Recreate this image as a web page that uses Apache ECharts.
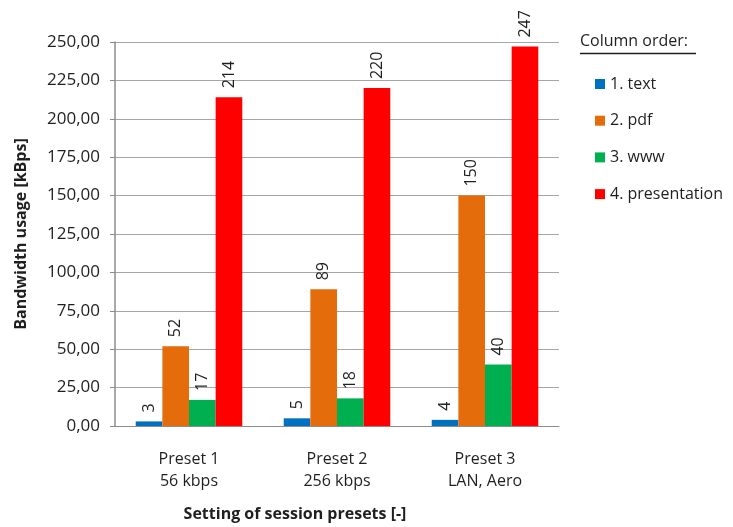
<!DOCTYPE html>
<html>
<head>
<meta charset="utf-8">
<script src="https://cdn.jsdelivr.net/npm/echarts@6/dist/echarts.min.js"></script>
<style>
  html, body { margin: 0; padding: 0; background: #fff; }
  #chart { width: 733px; height: 527px; }
</style>
</head>
<body>
<div id="chart"></div>
<script>
// Session presets on the x axis
const categories = ['Preset 1\n56 kbps', 'Preset 2\n256 kbps', 'Preset 3\nLAN, Aero'];

// Bandwidth usage per content type [kBps]
const seriesNames = ['1. text', '2. pdf', '3. www', '4. presentation'];
const textValues = [3, 5, 4];
const pdfValues = [52, 89, 150];
const wwwValues = [17, 18, 40];
const presentationValues = [214, 220, 247];

const colors = ['#0070C0', '#E46C0A', '#00B050', '#FF0000'];
const font = '"Open Sans", Lato, sans-serif';
const textColor = '#1f1f1f';

const valueSets = [textValues, pdfValues, wwwValues, presentationValues];

const series = valueSets.map((vals, i) => ({
  name: seriesNames[i],
  type: 'bar',
  data: vals,
  barGap: 0,
  barCategoryGap: '28%',
  itemStyle: { color: colors[i] },
  label: {
    show: true,
    position: 'top',
    rotate: 90,
    align: 'left',
    verticalAlign: 'middle',
    distance: 9,
    color: textColor,
    fontFamily: font,
    fontSize: 16,
    formatter: p => String(p.value)
  }
}));

const chart = echarts.init(document.getElementById('chart'));
chart.setOption({
  animation: false,
  backgroundColor: '#fff',
  grid: { left: 115, right: 174, top: 42, bottom: 100, containLabel: false },
  legend: {
    orient: 'vertical',
    left: 590,
    top: 71,
    itemGap: 20.7,
    itemWidth: 10,
    itemHeight: 10,
    icon: 'rect',
    data: seriesNames,
    textStyle: { color: textColor, fontFamily: font, fontSize: 16, lineHeight: 16 }
  },
  graphic: [
    {
      type: 'text',
      left: 580,
      top: 33,
      style: { text: 'Column order:', fill: textColor, font: '16px ' + font }
    },
    {
      type: 'line',
      shape: { x1: 580, y1: 53.5, x2: 696, y2: 53.5 },
      style: { stroke: textColor, lineWidth: 1.5 }
    }
  ],
  xAxis: {
    type: 'category',
    data: categories,
    name: 'Setting of session presets [-]',
    nameLocation: 'middle',
    nameGap: 80,
    nameTextStyle: {
      color: textColor, fontFamily: font, fontSize: 16, fontWeight: 'bold',
      padding: [0, 84, 0, 0]
    },
    axisLine: { lineStyle: { color: '#8c8c8c', width: 1 } },
    axisTick: { show: false },
    axisLabel: { color: textColor, fontFamily: font, fontSize: 16, margin: 22, lineHeight: 22 }
  },
  yAxis: {
    type: 'value',
    min: 0,
    max: 250,
    interval: 25,
    name: 'Bandwidth usage [kBps]',
    nameLocation: 'middle',
    nameRotate: 90,
    nameGap: 86,
    nameTextStyle: { color: textColor, fontFamily: font, fontSize: 16, fontWeight: 'bold' },
    axisLine: { show: true, lineStyle: { color: '#8c8c8c', width: 1.5 } },
    axisTick: { show: true, length: 5, lineStyle: { color: '#8c8c8c' } },
    splitLine: { lineStyle: { color: '#a6a6a6', width: 1 } },
    axisLabel: {
      color: textColor,
      fontFamily: font,
      fontSize: 17,
      margin: 15,
      formatter: v => v.toFixed(2).replace('.', ',')
    }
  },
  series: series
});
</script>
</body>
</html>
